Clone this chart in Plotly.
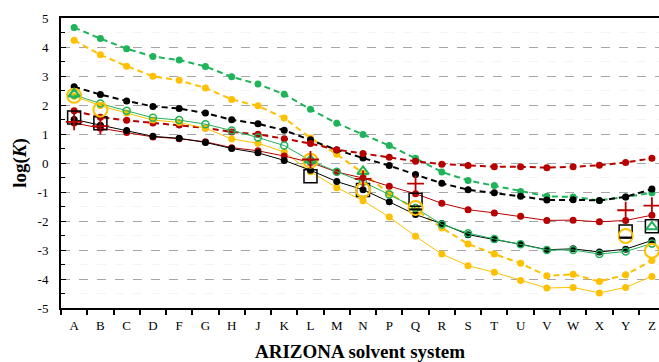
import plotly.graph_objects as go

cats = ["A","B","C","D","F","G","H","J","K","L","M","N","P","Q","R","S","T","U","V","W","X","Y","Z"]

green_dash  = [4.67, 4.29, 3.94, 3.67, 3.55, 3.33, 2.97, 2.72, 2.37, 1.85, 1.37, 0.98, 0.60, 0.16, -0.31, -0.60, -0.78, -0.98, -1.15, -1.17, -1.29, -1.17, -1.03]
yellow_dash = [4.23, 3.73, 3.34, 2.99, 2.85, 2.59, 2.19, 1.97, 1.55, 0.86, 0.30, -0.35, -1.05, -1.60, -2.24, -2.79, -3.14, -3.46, -3.89, -3.84, -4.09, -3.85, -3.36]
black_dash  = [2.63, 2.36, 2.14, 1.95, 1.88, 1.72, 1.49, 1.35, 1.13, 0.80, 0.45, 0.17, -0.09, -0.40, -0.70, -0.92, -1.03, -1.15, -1.28, -1.27, -1.29, -1.17, -0.90]
red_dash    = [1.80, 1.58, 1.47, 1.38, 1.31, 1.21, 1.07, 0.99, 0.84, 0.67, 0.46, 0.33, 0.20, 0.06, -0.04, -0.09, -0.13, -0.13, -0.16, -0.13, -0.08, 0.02, 0.16]

red_solid    = [1.38, 1.20, 1.05, 0.90, 0.84, 0.73, 0.53, 0.42, 0.24, 0.02, -0.31, -0.52, -0.80, -1.06, -1.39, -1.61, -1.72, -1.84, -1.98, -1.97, -2.03, -1.98, -1.80]
black_solid  = [1.50, 1.30, 1.12, 0.92, 0.85, 0.71, 0.50, 0.35, 0.09, -0.25, -0.64, -0.92, -1.34, -1.78, -2.09, -2.47, -2.64, -2.80, -2.99, -2.96, -3.07, -2.97, -2.67]
green_solid  = [2.35, 2.05, 1.80, 1.56, 1.48, 1.34, 1.12, 0.88, 0.60, 0.08, -0.30, -0.65, -1.09, -1.55, -2.12, -2.42, -2.62, -2.80, -3.00, -3.00, -3.14, -3.05, -2.78]
yellow_solid = [2.30, 1.98, 1.72, 1.48, 1.40, 1.20, 0.83, 0.68, 0.38, -0.30, -0.85, -1.30, -1.86, -2.53, -3.14, -3.54, -3.77, -4.05, -4.31, -4.29, -4.48, -4.29, -3.91]

exp_cats = ["A", "B", "L", "N", "Q", "Y", "Z"]
exp_square = [1.57, 1.37, -0.46, -0.93, -1.27, -2.36, -2.18]
exp_circle = [2.32, 1.84, 0.08, -0.93, -1.55, -2.52, -3.03]
exp_cross  = [1.42, 1.27, 0.12, -0.55, -0.71, -1.63, -1.47]
tri_cats = ["A", "L", "N", "Z"]
exp_triangle = [2.38, 0.10, -0.29, -2.20]
minus_cats = ["Q", "Y"]
exp_minus = [-1.60, -2.57]

GREEN = "#1fb35a"
YELLOW = "#ffc000"
BLACK = "#000000"
RED = "#b80000"

fig = go.Figure()

def dashed(y, color):
    fig.add_trace(go.Scatter(x=cats, y=y, mode="lines+markers",
                             line=dict(color=color, width=2, dash="6px,4px"),
                             marker=dict(color=color, size=7)))

def solid(y, color, open_marker=False):
    if open_marker:
        mk = dict(symbol="circle-open", color=color, size=7, line=dict(width=1.5, color=color))
    else:
        mk = dict(color=color, size=7)
    fig.add_trace(go.Scatter(x=cats, y=y, mode="lines+markers",
                             line=dict(color=color, width=1), marker=mk))

dashed(green_dash, GREEN)
dashed(yellow_dash, YELLOW)
dashed(black_dash, BLACK)
dashed(red_dash, RED)
solid(yellow_solid, YELLOW)
solid(red_solid, RED)
solid(black_solid, BLACK)
solid(green_solid, GREEN, open_marker=True)

fig.add_trace(go.Scatter(x=exp_cats, y=exp_square, mode="markers",
                         marker=dict(symbol="square-open", size=13, color=BLACK, line=dict(width=1.5, color=BLACK))))
fig.add_trace(go.Scatter(x=exp_cats, y=exp_circle, mode="markers",
                         marker=dict(symbol="circle-open", size=14, color=YELLOW, line=dict(width=2, color=YELLOW))))
fig.add_trace(go.Scatter(x=tri_cats, y=exp_triangle, mode="markers",
                         marker=dict(symbol="triangle-up-open", size=10, color=GREEN, line=dict(width=2, color=GREEN))))
fig.add_trace(go.Scatter(x=exp_cats, y=exp_cross, mode="markers",
                         marker=dict(symbol="cross-thin-open", size=12, color=RED, line=dict(width=1.8, color=RED))))
fig.add_trace(go.Scatter(x=minus_cats, y=exp_minus, mode="markers",
                         marker=dict(symbol="line-ew-open", size=9, color=BLACK, line=dict(width=2, color=BLACK))))

ytick_vals = [-5, -4, -3, -2, -1, 0, 1, 2, 3, 4, 5]
ytick_text = ["-5", "-4", "-3", "-2", "-1", "0", "1", "2", "3", "4", "5"]

SERIF = "Liberation Serif"

fig.update_layout(
    width=659, height=362,
    margin=dict(l=61, r=0, t=18, b=54),
    paper_bgcolor="white", plot_bgcolor="white",
    showlegend=False,
    font=dict(family=SERIF, color="black", size=13),
)
fig.update_xaxes(
    type="category", categoryorder="array", categoryarray=cats,
    range=[-0.5, 22.27],
    showline=True, linecolor="black", linewidth=2, mirror=True,
    ticks="outside", tickson="boundaries", ticklen=5, tickcolor="black", tickwidth=1.5,
    ticklabelstandoff=4,
    showgrid=False,
    tickfont=dict(family=SERIF, size=13, color="black"),
    title=dict(text="<b>ARIZONA solvent system</b>", font=dict(family=SERIF, size=19, color="black"), standoff=14),
)
fig.update_yaxes(
    range=[-5, 5],
    tickvals=ytick_vals, ticktext=ytick_text,
    showline=True, linecolor="black", linewidth=2,
    ticks="inside", ticklen=5, tickcolor="black", tickwidth=1,
    ticklabelstandoff=8,
    minor=dict(dtick=0.5, ticks="inside", ticklen=4, tickcolor="black", showgrid=True, gridcolor="#f3f3f3", gridwidth=1),
    showgrid=True, gridcolor="#a6a6a6", griddash="dash", gridwidth=1,
    zeroline=False,
    tickfont=dict(family=SERIF, size=13, color="black"),
    title=dict(text="<b>log(<i>K</i>)</b>", font=dict(family=SERIF, size=19, color="black"), standoff=6),
)

fig.write_html("out.html")
